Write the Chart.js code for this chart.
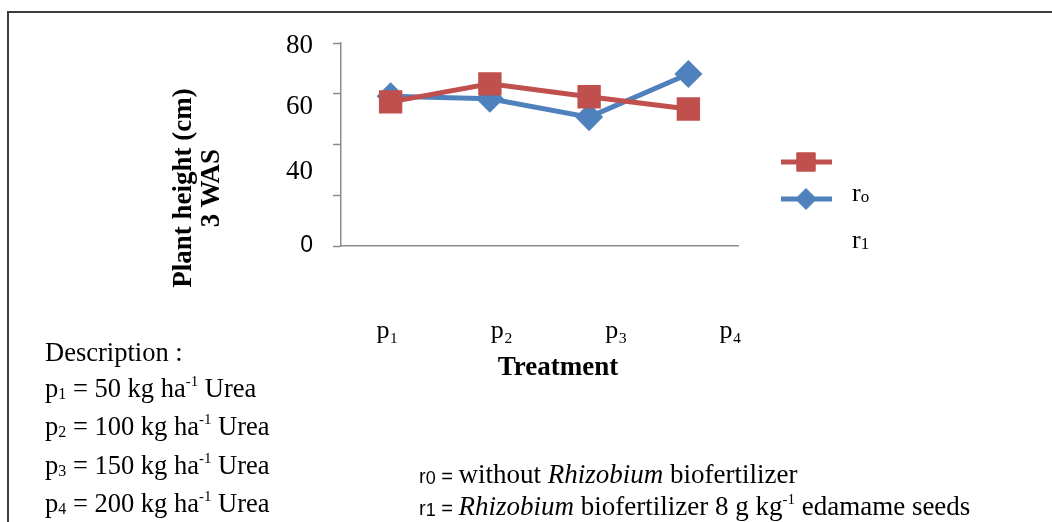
<!DOCTYPE html>
<html>
<head>
<meta charset="utf-8">
<script src="https://cdn.jsdelivr.net/npm/chart.js@4.4.0/dist/chart.umd.min.js"></script>
<style>
  html, body { margin: 0; padding: 0; background: #fff; }
  #wrap { position: relative; width: 1052px; height: 522px; overflow: hidden; background: #fff; }
  #c { position: absolute; left: 0; top: 0; }
  .frame { position: absolute; left: 7px; top: 11px; width: 1060px; height: 530px;
           border-top: 2px solid #3c3c3c; border-left: 2px solid #3c3c3c; }
  .t { position: absolute; font-family: 'Liberation Serif', 'Times New Roman', serif; color: #000; white-space: nowrap; line-height: 1; }
  .ytitle { font-weight: bold; font-size: 27px; transform: translate(-50%, -50%) rotate(-90deg); }
  .desc { font-size: 26.5px; }
  .desc sub { font-size: 16px; vertical-align: -2px; }
  .desc sup { font-size: 15px; vertical-align: 11px; }
  .def { font-size: 27px; }
  .def .s { font-family: 'Liberation Sans', Arial, sans-serif; font-size: 20px; }
  .def .s sub { font-size: 18px; vertical-align: -1px; }
  .def sup { font-size: 15px; vertical-align: 11px; }
  .leg { font-size: 26px; }
  .leg sub { font-size: 17px; vertical-align: -1px; }
</style>
</head>
<body>
<div id="wrap">
  <canvas id="c" width="1052" height="522"></canvas>
  <div class="frame"></div>
  <div class="t ytitle" style="left:182px; top:188px;">Plant height (cm)</div>
  <div class="t ytitle" style="left:210px; top:188px;">3 WAS</div>
  <div class="t" style="left:558px; top:366px; font-weight:bold; font-size:27px; transform:translate(-50%,-50%);">Treatment</div>
  <div class="t leg" style="left:852px; top:180px;">r<sub>o</sub></div>
  <div class="t leg" style="left:852px; top:227px;">r<sub>1</sub></div>
  <div class="t desc" style="left:45px; top:339px;">Description :</div>
  <div class="t desc" style="left:45px; top:374px;">p<sub>1</sub> = 50 kg ha<sup>-1</sup> Urea</div>
  <div class="t desc" style="left:45px; top:412px;">p<sub>2</sub> = 100 kg ha<sup>-1</sup> Urea</div>
  <div class="t desc" style="left:45px; top:451px;">p<sub>3</sub> = 150 kg ha<sup>-1</sup> Urea</div>
  <div class="t desc" style="left:45px; top:489px;">p<sub>4</sub> = 200 kg ha<sup>-1</sup> Urea</div>
  <div class="t def" style="left:419px; top:461px;"><span class="s">r<sub>0</sub> = </span>without <i>Rhizobium</i> biofertilizer</div>
  <div class="t def" style="left:419px; top:492px;"><span class="s">r<sub>1</sub> = </span><i>Rhizobium</i> biofertilizer 8 g kg<sup>-1</sup> edamame seeds</div>
</div>
<script>
// ---- data ----
const categories = ['p1', 'p2', 'p3', 'p4'];
const xTickLabels = ['p\u2081', 'p\u2082', 'p\u2083', 'p\u2084'];
const r0Values = [56.8, 63.9, 58.8, 54.0];
const r1Values = [59.0, 58.0, 50.8, 67.8];
// tick marks on the value axis
const yTickMarks = [0, 20, 40, 60, 80];
// printed labels (placed where the source shows them)
const yLabelValues = [0, 29.1, 54.7, 78.7];
const yLabelText = ['0', '40', '60', '80'];

const RED = '#C0504D';
const BLUE = '#4F81BD';

const legendPlugin = {
  id: 'sideLegend',
  afterDraw(chart) {
    const ctx = chart.ctx;
    const rows = [
      { ds: chart.data.datasets[0], y: 162 },
      { ds: chart.data.datasets[1], y: 199 }
    ];
    rows.forEach(r => {
      ctx.save();
      ctx.strokeStyle = r.ds.borderColor;
      ctx.lineWidth = r.ds.borderWidth;
      ctx.beginPath();
      ctx.moveTo(781, r.y);
      ctx.lineTo(832, r.y);
      ctx.stroke();
      ctx.fillStyle = r.ds.pointBackgroundColor;
      ctx.strokeStyle = r.ds.pointBorderColor;
      ctx.lineWidth = 1;
      Chart.helpers.drawPoint(ctx, { pointStyle: r.ds.pointStyle, radius: r.ds.pointRadius, borderWidth: 1, rotation: 0 }, 806, r.y);
      ctx.restore();
    });
  }
};

const isMark = (v) => yTickMarks.includes(v);

new Chart(document.getElementById('c'), {
  type: 'line',
  data: {
    labels: categories,
    datasets: [
      { label: 'r0', data: r0Values, borderColor: RED, backgroundColor: RED,
        pointBackgroundColor: RED, pointBorderColor: RED, borderWidth: 5,
        pointStyle: 'rect', pointRadius: 13, pointHoverRadius: 13, tension: 0, xAxisID: 'x', yAxisID: 'y' },
      { label: 'r1', data: r1Values, borderColor: BLUE, backgroundColor: BLUE,
        pointBackgroundColor: BLUE, pointBorderColor: BLUE, borderWidth: 5,
        pointStyle: 'rectRot', pointRadius: 10.5, pointHoverRadius: 10.5, tension: 0, xAxisID: 'x', yAxisID: 'y' }
    ]
  },
  options: {
    responsive: false,
    animation: false,
    devicePixelRatio: 1,
    layout: { padding: { left: 0, right: 314, top: 43, bottom: 156 } },
    plugins: { legend: { display: false }, tooltip: { enabled: false } },
    scales: {
      x: { type: 'category', display: false, offset: true },
      x2: {
        type: 'linear', position: 'bottom', min: 0.592, max: 4.066,
        afterBuildTicks: (s) => { s.ticks = categories.map((c, i) => ({ value: i + 1 })); },
        afterFit: (s) => { s.height = 120; },
        border: { display: true, color: '#8c8c8c', width: 1.5 },
        grid: { display: true, drawOnChartArea: false, drawTicks: false },
        ticks: {
          autoSkip: false, maxRotation: 0, padding: 70, color: '#000',
          font: { family: "'Liberation Serif', serif", size: 26 },
          callback: (v) => xTickLabels[Math.round(v) - 1] || ''
        }
      },
      y: {
        type: 'linear', position: 'left', min: 0, max: 80,
        afterBuildTicks: (s) => {
          const vals = Array.from(new Set(yTickMarks.concat(yLabelValues))).sort((a, b) => a - b);
          s.ticks = vals.map(v => ({ value: v }));
        },
        afterFit: (s) => { s.width = 341; },
        border: { display: true, color: '#8c8c8c', width: 1.5 },
        grid: {
          drawOnChartArea: false, drawTicks: true, tickLength: 8, tickWidth: 1.5,
          tickColor: (ctx) => (ctx.tick && isMark(ctx.tick.value)) ? '#8c8c8c' : 'rgba(0,0,0,0)'
        },
        ticks: {
          autoSkip: false, padding: 20, color: '#000',
          font: (ctx) => (ctx.tick && ctx.tick.value === 0)
            ? { family: "'Liberation Sans', Arial, sans-serif", size: 23 }
            : { family: "'Liberation Serif', serif", size: 27 },
          callback: (v) => {
            const i = yLabelValues.indexOf(v);
            return i >= 0 ? yLabelText[i] : '';
          }
        }
      }
    }
  },
  plugins: [legendPlugin]
});
</script>
</body>
</html>
